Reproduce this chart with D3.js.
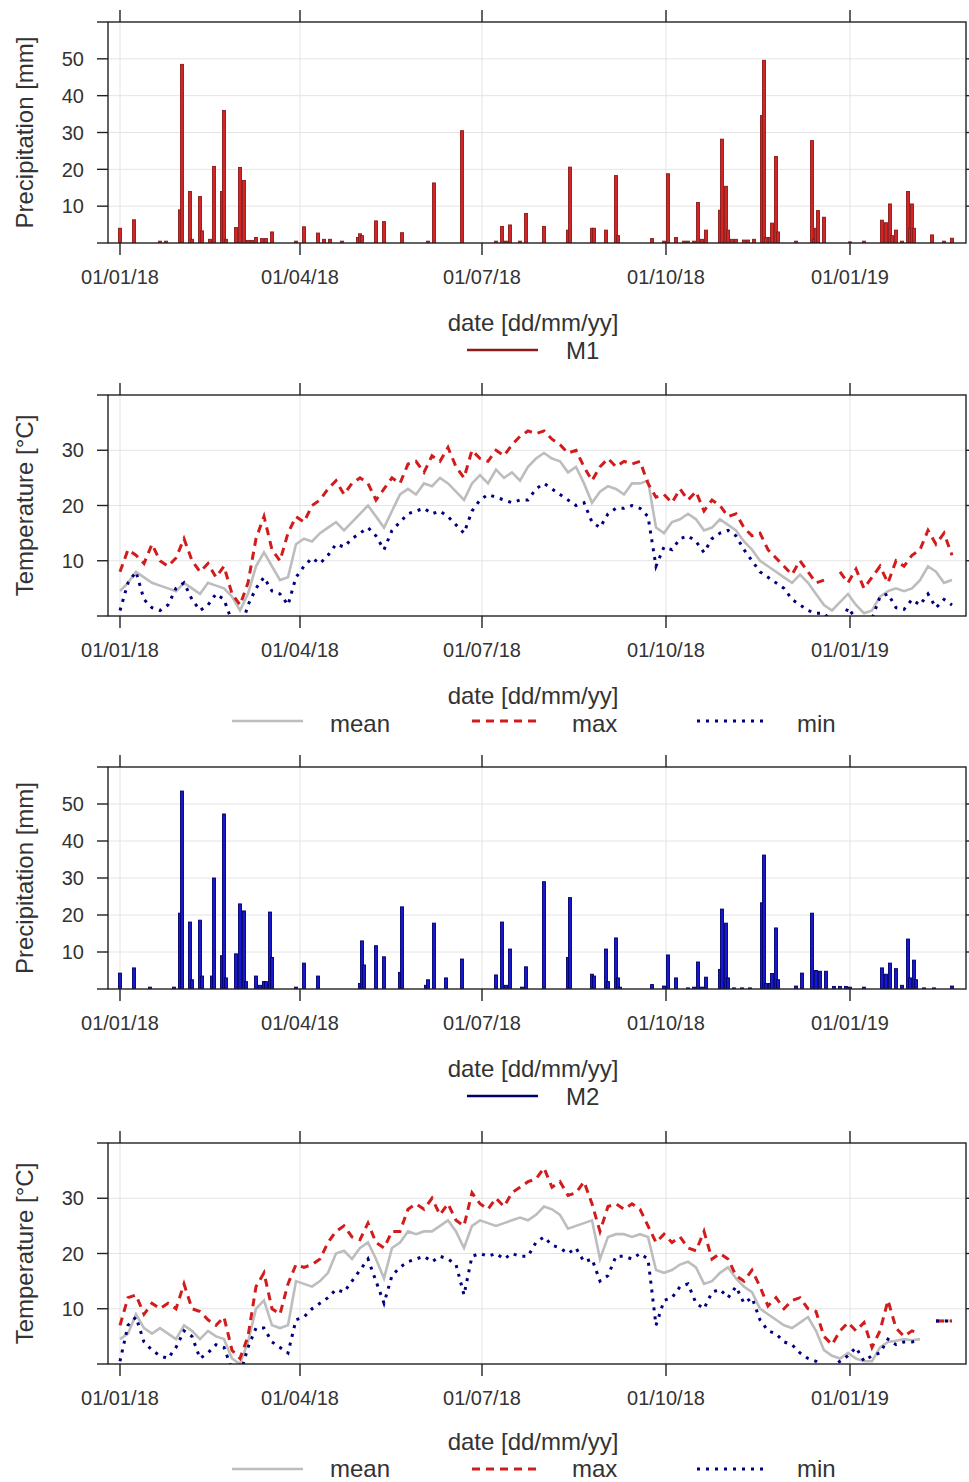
<!DOCTYPE html>
<html>
<head>
<meta charset="utf-8">
<script src="https://cdn.jsdelivr.net/npm/d3@7"></script>
<style>
body { margin: 0; background: #fff; }
svg { display: block; }
text { font-family: "Liberation Sans", Arial, sans-serif; fill: #333; }
</style>
</head>
<body>
<svg id="chart" width="969" height="1482"></svg>
<script>
// x axis ticks and y axis ticks
const tickDates = ["2018-01-01", "2018-04-01", "2018-07-01", "2018-10-01", "2019-01-01"];
const precipTicks = [10, 20, 30, 40, 50];
const tempTicks = [10, 20, 30];

// Daily precipitation, station M1 (only days with rain)
const m1PrecipDates = [
  "2018-01-01", "2018-01-08", "2018-01-21", "2018-01-24", "2018-01-31", "2018-02-01", "2018-02-05", "2018-02-06",
  "2018-02-10", "2018-02-11", "2018-02-15", "2018-02-17", "2018-02-21", "2018-02-22", "2018-02-23", "2018-02-28",
  "2018-03-02", "2018-03-04", "2018-03-06", "2018-03-08", "2018-03-10", "2018-03-13", "2018-03-15", "2018-03-18",
  "2018-03-30", "2018-04-03", "2018-04-10", "2018-04-13", "2018-04-16", "2018-04-22", "2018-04-30", "2018-05-01",
  "2018-05-02", "2018-05-09", "2018-05-13", "2018-05-22", "2018-06-04", "2018-06-07", "2018-06-21", "2018-07-08",
  "2018-07-11", "2018-07-13", "2018-07-15", "2018-07-20", "2018-07-23", "2018-08-01", "2018-08-13", "2018-08-14",
  "2018-08-25", "2018-08-26", "2018-09-01", "2018-09-06", "2018-09-07", "2018-09-24", "2018-09-30", "2018-10-02",
  "2018-10-06", "2018-10-10", "2018-10-12", "2018-10-15", "2018-10-17", "2018-10-19", "2018-10-21", "2018-10-28",
  "2018-10-29", "2018-10-31", "2018-11-01", "2018-11-03", "2018-11-05", "2018-11-09", "2018-11-11", "2018-11-14",
  "2018-11-18", "2018-11-19", "2018-11-20", "2018-11-22", "2018-11-23", "2018-11-25", "2018-11-26", "2018-12-05",
  "2018-12-13", "2018-12-14", "2018-12-15", "2018-12-16", "2018-12-19", "2019-01-01", "2019-01-08", "2019-01-17",
  "2019-01-19", "2019-01-21", "2019-01-22", "2019-01-24", "2019-01-27", "2019-01-30", "2019-01-31", "2019-02-01",
  "2019-02-02", "2019-02-11", "2019-02-17", "2019-02-21"
];
const m1Precip = [
  4, 6.3, 0.5, 0.5, 9, 48.5, 14, 1,
  12.6, 3.3, 1, 20.8, 14, 36, 1, 4.2,
  20.5, 17, 0.7, 0.7, 1.5, 1.2, 1.2, 3,
  0.5, 4.4, 2.7, 1, 1, 0.5, 1.5, 2.5,
  2, 6, 5.8, 2.8, 0.5, 16.3, 30.5, 0.5,
  4.5, 0.5, 4.9, 0.5, 8, 4.5, 3.5, 20.6,
  4, 4, 3.5, 18.3, 2, 1.2, 0.5, 18.8,
  1.5, 0.5, 0.5, 0.5, 11, 1, 3.5, 8.9,
  28.2, 15.4, 3.5, 1, 1, 0.8, 0.8, 1,
  34.6, 49.6, 1.5, 1.5, 5.4, 23.5, 3, 0.5,
  27.8, 1, 4, 8.8, 7, 0.3, 0.5, 6.2,
  5.5, 10.6, 2, 3.5, 0.5, 14, 4, 10.6,
  4, 2.2, 0.5, 1.3
];

// Daily precipitation, station M2
const m2PrecipDates = [
  "2018-01-01", "2018-01-08", "2018-01-16", "2018-01-28", "2018-01-31", "2018-02-01", "2018-02-05", "2018-02-06",
  "2018-02-10", "2018-02-11", "2018-02-16", "2018-02-17", "2018-02-21", "2018-02-22", "2018-02-23", "2018-02-28",
  "2018-03-02", "2018-03-04", "2018-03-05", "2018-03-10", "2018-03-12", "2018-03-14", "2018-03-15", "2018-03-17",
  "2018-03-18", "2018-03-30", "2018-04-03", "2018-04-10", "2018-05-01", "2018-05-02", "2018-05-03", "2018-05-09",
  "2018-05-13", "2018-05-21", "2018-05-22", "2018-06-03", "2018-06-04", "2018-06-07", "2018-06-13", "2018-06-21",
  "2018-07-08", "2018-07-11", "2018-07-13", "2018-07-15", "2018-07-21", "2018-07-23", "2018-08-01", "2018-08-13",
  "2018-08-14", "2018-08-25", "2018-08-26", "2018-09-01", "2018-09-02", "2018-09-06", "2018-09-07", "2018-09-08",
  "2018-09-24", "2018-09-30", "2018-10-02", "2018-10-06", "2018-10-12", "2018-10-15", "2018-10-17", "2018-10-19",
  "2018-10-21", "2018-10-28", "2018-10-29", "2018-10-31", "2018-11-01", "2018-11-04", "2018-11-08", "2018-11-12",
  "2018-11-18", "2018-11-19", "2018-11-20", "2018-11-22", "2018-11-23", "2018-11-25", "2018-11-26", "2018-12-05",
  "2018-12-08", "2018-12-13", "2018-12-15", "2018-12-17", "2018-12-20", "2018-12-24", "2018-12-27", "2018-12-30",
  "2019-01-01", "2019-01-08", "2019-01-17", "2019-01-19", "2019-01-21", "2019-01-24", "2019-01-27", "2019-01-30",
  "2019-01-31", "2019-02-02", "2019-02-03", "2019-02-07", "2019-02-12", "2019-02-21"
];
const m2Precip = [
  4.3, 5.7, 0.5, 0.5, 20.5, 53.5, 18.1, 2.5,
  18.6, 3.5, 3.5, 30, 9, 47.3, 3, 9.5,
  23, 21.1, 2, 3.5, 1, 2, 2, 20.8,
  8.5, 0.5, 7, 3.5, 1.5, 13, 6.5, 11.7,
  8.7, 4.5, 22.2, 1, 2.5, 17.8, 3, 8.1,
  3.8, 18.1, 1, 10.8, 0.5, 6, 29, 8.5,
  24.7, 4, 3.5, 10.8, 2, 13.8, 3, 0.5,
  1.2, 0.8, 9.2, 3, 0.3, 0.5, 7.3, 0.5,
  3.2, 5.3, 21.6, 17.8, 3, 0.3, 0.3, 0.3,
  23.3, 36.2, 1.5, 1.5, 4.2, 16.5, 2.5, 0.8,
  4.3, 20.5, 5, 4.8, 4.8, 0.7, 0.7, 0.7,
  0.5, 0.5, 5.7, 4, 7, 5.5, 1, 13.5,
  3, 7.8, 2.5, 0.3, 0.3, 0.8
];

// Temperatures read every 4 days from 01/01/18
const tempStart = "2018-01-01";
const tempStepDays = 4;

const m1TempMean = [
  4.5, 6, 8, 7, 6, 5.5, 5, 4.5, 6, 5,
  4, 6, 5.5, 5, 3.5, 1, 4, 9, 11.5, 9,
  6.5, 7, 13, 14, 13.5, 15, 16, 17, 15.5, 17,
  18.5, 20, 18, 16, 19, 22, 23, 22, 24, 23.5,
  25, 24, 22.5, 21, 24, 25.5, 24, 26.5, 25, 26,
  24.5, 27, 28.5, 29.5, 28.5, 28, 26, 27, 24, 20.5,
  22.5, 23.5, 23, 22, 24, 24, 24.5, 16, 15, 17,
  17.5, 18.5, 17.5, 15.5, 16, 17.5, 16.5, 15.5, 13.5, 12,
  10, 9, 8, 7, 6, 7.5, 6, 4, 2, 1,
  2.5, 4, 2, 0.5, 1, 3.5, 4.5, 5, 4.5, 5,
  6.5, 9, 8, 6, 6.5
];
const m1TempMax = [
  8, 12, 11, 9.5, 13, 10, 9, 10.5, 14, 10,
  8, 9.5, 7, 9, 4, 2, 6, 14, 18, 12,
  10, 15, 18, 17, 20, 21, 23, 24.5, 22, 24,
  25, 24, 21, 23, 25, 24, 27.5, 28, 26, 29,
  28, 30.5, 27, 25, 30, 28.5, 28, 30, 29, 31,
  32.5, 33.5, 33, 33.5, 32, 31, 29.5, 30, 27, 24.5,
  27, 28.5, 27, 28, 27.5, 28, 24, 21.5, 22, 20.5,
  23, 21, 22.5, 19, 21, 20, 18, 18.5, 16, 14.5,
  15, 12, 10.5, 9, 7.5, 10, 8, 6, 6.5, null,
  8, 6, 8.5, 5, 7, 9, 6, 10, 9, 11,
  12, 15.5, 13, 15, 11
];
const m1TempMin = [
  1, 6, 8, 3, 1.5, 1, 2, 5, 6, 3,
  1, 2, 4, 3, -1, -3, 2, 5, 7, 4.5,
  4, 2, 7, 9, 10.5, 9.5, 11, 13, 12.5, 14,
  15, 16, 14.5, 12, 15.5, 17, 18.5, 19, 19.5, 18.5,
  19, 18, 16.5, 15, 19, 21, 22, 21.5, 21, 20.5,
  21, 21, 23, 24, 23, 22, 21, 20, 20.5, 17,
  16, 18.5, 19.5, 19.5, 20, 19.5, 18, 9, 12.5, 12,
  14, 14.5, 13.5, 11.5, 14, 15, 15.5, 14.5, 12, 10,
  8, 7, 6, 5, 3, 2, 1, 0.5, 0.5, -1,
  -2, 1.5, -0.5, -1, -0.5, 3.5, 4, 1.5, 1.2, 3,
  2, 4, 1.5, 3, 2
];

const m2TempMean = [
  4.5, 5.5, 9, 6.5, 5.5, 6.5, 5.5, 4.5, 7, 6,
  4.5, 6, 5, 4.5, 1, 0, 4, 10, 11.5, 7,
  6.5, 7, 15, 14.5, 14, 15, 16.5, 20, 20.5, 19,
  21, 22, 19, 15.5, 21, 22, 24, 23.5, 24, 24,
  25, 26, 24, 21, 25, 26, 25.5, 25, 25.5, 26,
  26.5, 26, 27, 28.5, 28, 27, 24.5, 25, 25.5, 26,
  19, 23, 23.5, 23.5, 23, 23.5, 23, 17, 16.5, 17,
  18, 18.5, 17.5, 14.5, 15, 16.5, 17.5, 15.5, 14, 13,
  10, 9, 8, 7, 6.5, 7.5, 8.5, 6, 2.5, 1.5,
  1, 2, 1, 0.5, 0.5, 3, 4, 4.2, 4.5, 4.3,
  4.5, null, 7.8, 7.8, 7.8
];
const m2TempMax = [
  7, 12, 12.5, 9, 11, 10, 11, 10, 14.5, 10,
  9.5, 8, 7, 8.5, 2.5, 1, 5, 14, 16.5, 10,
  9, 14.5, 18, 17.5, 18, 19, 22, 24, 25, 23,
  22.5, 25.5, 22, 21, 24, 24, 28, 29, 28, 30,
  27, 29, 26, 25, 31, 29, 28, 30, 28.5, 31,
  32, 33, 33.5, 35.5, 32, 33, 30.5, 31, 33, 29,
  24, 28.5, 29, 28, 29, 28, 25, 22, 23.5, 22,
  23, 21, 20.5, 24, 19, 20, 19, 16, 15, 17,
  14, 10.5, 12, 10, 11.5, 12, 10, 9.5, 5, 3.5,
  6, 7.5, 6, 7.5, 3, 6, 11.5, 6.5, 5, 6,
  5.5, null, 7.8, 7.8, 7.8
];
const m2TempMin = [
  0.5, 7, 8.5, 4, 2.5, 1.5, 1, 3, 6, 5,
  1, 2, 3.5, 3, -1, -2, 3, 6.5, 6.5, 4,
  3, 2, 8, 8.5, 10, 11, 12, 13.5, 13, 15,
  17, 19, 15, 11, 16, 17.5, 18.5, 19, 19.5, 18.5,
  19.5, 19, 18, 12.5, 19.5, 20, 19.5, 20, 19, 20,
  19.5, 19.5, 22, 23, 21.5, 21, 20, 21, 18.5, 19,
  15, 16, 19.5, 19.5, 19, 20, 19, 7, 11.5, 12,
  14, 14.5, 11, 10, 13, 13.5, 12, 14, 11, 12,
  8, 6, 5.5, 4, 3.5, 2, 1, 0.5, -0.5, -0.5,
  0.5, 1.5, 3, 0.5, 1.5, 2, 4.5, 3.5, 4, 4,
  4.2, null, 7.8, 7.8, 7.8
];

const parseDate = d3.timeParse("%Y-%m-%d");
const svg = d3.select("#chart");

const left = 108, right = 966;
const x = d3.scaleTime()
  .domain([parseDate("2017-12-26"), parseDate("2019-02-28")])
  .range([left, right]);

function tempSeries(values) {
  const start = parseDate(tempStart);
  return values.map((v, i) => ({ date: d3.timeDay.offset(start, i * tempStepDays), v: v }));
}

const panels = [
  { kind: "precip", top: 22, bottom: 243, dates: m1PrecipDates, values: m1Precip,
    fill: "#d42424", stroke: "#8b1a1a", name: "M1" },
  { kind: "temp", top: 395, bottom: 616, mean: m1TempMean, max: m1TempMax, min: m1TempMin },
  { kind: "precip", top: 767, bottom: 989, dates: m2PrecipDates, values: m2Precip,
    fill: "#1818d0", stroke: "#00006b", name: "M2" },
  { kind: "temp", top: 1143, bottom: 1364, mean: m2TempMean, max: m2TempMax, min: m2TempMin }
];

const styles = {
  mean: { color: "#bdbdbd", width: 2.6, dash: null },
  max: { color: "#d21c1c", width: 3, dash: "8,6" },
  min: { color: "#000080", width: 3, dash: "3,6" }
};

panels.forEach((p, i) => {
  const g = svg.append("g");
  const yMax = p.kind === "precip" ? 60 : 40;
  const y = d3.scaleLinear().domain([0, yMax]).range([p.bottom, p.top]);
  const labelTicks = p.kind === "precip" ? precipTicks : tempTicks;
  const allTicks = d3.range(0, yMax + 1, 10);
  const xTicks = tickDates.map(parseDate);

  // grid
  g.selectAll(".hgrid").data(labelTicks).join("line")
    .attr("x1", left).attr("x2", right)
    .attr("y1", d => y(d)).attr("y2", d => y(d))
    .attr("stroke", "#e4e4e4").attr("stroke-width", 1);
  g.selectAll(".vgrid").data(xTicks).join("line")
    .attr("x1", d => x(d)).attr("x2", d => x(d))
    .attr("y1", p.top).attr("y2", p.bottom)
    .attr("stroke", "#e4e4e4").attr("stroke-width", 1);

  const clipId = "clip" + i;
  g.append("clipPath").attr("id", clipId).append("rect")
    .attr("x", left).attr("y", p.top).attr("width", right - left).attr("height", p.bottom - p.top);
  const plot = g.append("g").attr("clip-path", "url(#" + clipId + ")");

  if (p.kind === "precip") {
    const bars = p.dates.map((d, k) => ({ date: parseDate(d), v: p.values[k] }));
    plot.selectAll("rect").data(bars).join("rect")
      .attr("x", d => x(d.date) - 1.5)
      .attr("width", 3)
      .attr("y", d => y(d.v))
      .attr("height", d => y(0) - y(d.v))
      .attr("fill", p.fill)
      .attr("stroke", p.stroke)
      .attr("stroke-width", 0.9);
  } else {
    const line = d3.line()
      .defined(d => d.v !== null)
      .x(d => x(d.date))
      .y(d => y(d.v));
    ["mean", "max", "min"].forEach(key => {
      const s = styles[key];
      plot.append("path")
        .datum(tempSeries(p[key]))
        .attr("d", line)
        .attr("fill", "none")
        .attr("stroke", s.color)
        .attr("stroke-width", s.width)
        .attr("stroke-dasharray", s.dash);
    });
  }

  // frame
  g.append("rect")
    .attr("x", left).attr("y", p.top)
    .attr("width", right - left).attr("height", p.bottom - p.top)
    .attr("fill", "none").attr("stroke", "#222").attr("stroke-width", 1.4);

  // x ticks top and bottom
  g.selectAll(".xt").data(xTicks).join("line")
    .attr("x1", d => x(d)).attr("x2", d => x(d))
    .attr("y1", p.top - 12).attr("y2", p.top)
    .attr("stroke", "#222").attr("stroke-width", 1.4);
  g.selectAll(".xb").data(xTicks).join("line")
    .attr("x1", d => x(d)).attr("x2", d => x(d))
    .attr("y1", p.bottom).attr("y2", p.bottom + 12)
    .attr("stroke", "#222").attr("stroke-width", 1.4);

  // y ticks left and right
  g.selectAll(".yl").data(allTicks).join("line")
    .attr("x1", left - 11).attr("x2", left)
    .attr("y1", d => y(d)).attr("y2", d => y(d))
    .attr("stroke", "#222").attr("stroke-width", 1.4);
  g.selectAll(".yr").data(labelTicks).join("line")
    .attr("x1", right).attr("x2", right + 11)
    .attr("y1", d => y(d)).attr("y2", d => y(d))
    .attr("stroke", "#222").attr("stroke-width", 1.4);

  // tick labels
  g.selectAll(".ylab").data(labelTicks).join("text")
    .attr("x", 84).attr("y", d => y(d)).attr("dy", "0.36em")
    .attr("text-anchor", "end").attr("font-size", 20)
    .text(d => d);
  g.selectAll(".xlab").data(xTicks).join("text")
    .attr("x", d => x(d)).attr("y", p.bottom + 34).attr("dy", "0.36em")
    .attr("text-anchor", "middle").attr("font-size", 20)
    .text(d => d3.timeFormat("%d/%m/%y")(d));

  // axis titles
  g.append("text")
    .attr("transform", "translate(24," + ((p.top + p.bottom) / 2) + ") rotate(-90)")
    .attr("dy", "0.36em").attr("text-anchor", "middle").attr("font-size", 24)
    .text(p.kind === "precip" ? "Precipitation [mm]" : "Temperature [°C]");
  g.append("text")
    .attr("x", 533).attr("y", Math.min(p.bottom + 79, 1441)).attr("dy", "0.36em")
    .attr("text-anchor", "middle").attr("font-size", 24)
    .text("date [dd/mm/yy]");

  // legend
  if (p.kind === "precip") {
    const ly = p.bottom + 107;
    g.append("line").attr("x1", 467).attr("x2", 538).attr("y1", ly).attr("y2", ly)
      .attr("stroke", p.stroke).attr("stroke-width", 2.6);
    g.append("text").attr("x", 566).attr("y", ly).attr("dy", "0.36em")
      .attr("font-size", 24).text(p.name);
  } else {
    const ly = p.bottom + 105;
    const ty = Math.min(ly + 2, 1468);
    const items = [
      { key: "mean", x1: 232, x2: 303, tx: 330 },
      { key: "max", x1: 472, x2: 538, tx: 572 },
      { key: "min", x1: 697, x2: 767, tx: 797 }
    ];
    items.forEach(it => {
      const s = styles[it.key];
      g.append("line").attr("x1", it.x1).attr("x2", it.x2).attr("y1", ly).attr("y2", ly)
        .attr("stroke", s.color).attr("stroke-width", s.width).attr("stroke-dasharray", s.dash);
      g.append("text").attr("x", it.tx).attr("y", ty).attr("dy", "0.36em")
        .attr("font-size", 24).text(it.key);
    });
  }
});
</script>
</body>
</html>
